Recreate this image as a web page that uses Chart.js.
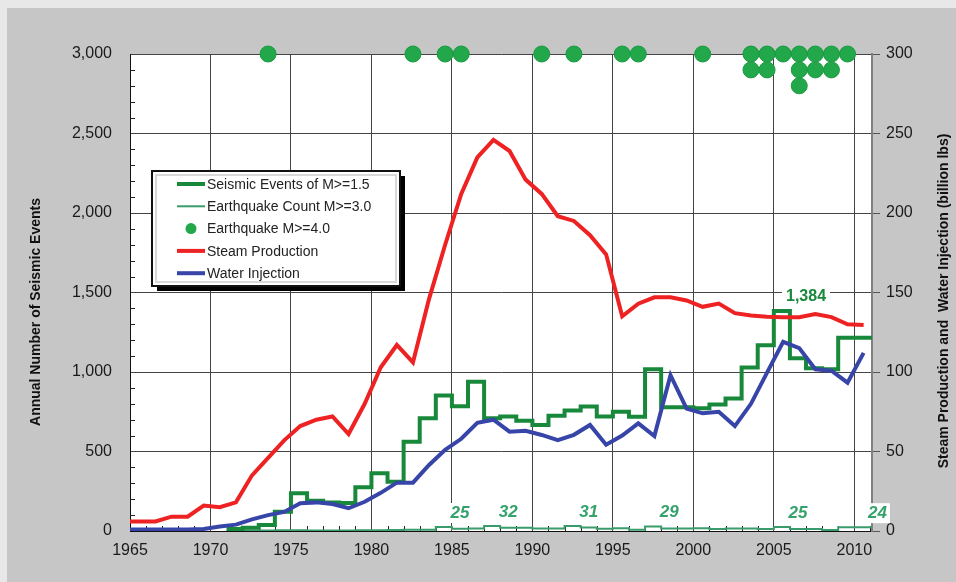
<!DOCTYPE html>
<html>
<head>
<meta charset="utf-8">
<script src="https://cdn.jsdelivr.net/npm/chart.js@4.4.1/dist/chart.umd.min.js"></script>
<style>
  html, body { margin: 0; padding: 0; background: #e8e8e8; }
  #wrap { position: relative; width: 956px; height: 582px; }
</style>
</head>
<body>
<div id="wrap"><canvas id="chart" width="956" height="582"></canvas></div>
<script>
// yearly series, steam / water in billion lbs (right axis)
const LINE_START = 1964;
const steamValues = [6, 6, 6, 9, 9, 16, 15, 18, 35, 46, 57, 66, 70, 72, 61, 80, 103, 117, 106, 146,
  180, 212, 235, 246, 239, 221, 212, 198, 195, 186, 174, 135, 143, 147, 147, 145, 141, 143, 137,
  135.5, 134.8, 134.5, 134.5, 136.5, 134.5, 130, 129.5];
const waterValues = [1, 1, 1, 1, 1, 1.3, 2.8, 4, 7.3, 10, 12, 17.4, 18, 17, 14.3, 18.4, 24, 30.4, 30.4,
  41.5, 51, 58, 68, 70, 62.5, 63, 60.4, 57.2, 60.5, 66.7, 54.3, 60, 67.7, 59.7, 98, 77, 74, 75, 66,
  80, 99.6, 119, 115, 101.7, 100.8, 93.3, 112];

// annual event counts (left axis), one bin per year
const COUNT_START = 1971;
const seismicValues = [12, 12, 21, 38, 121, 237, 191, 180, 176, 275, 363, 310, 562, 709, 852, 784,
  939, 709, 720, 694, 667, 725, 758, 783, 720, 750, 719, 1017, 778, 778, 772, 795, 834, 1029, 1168,
  1384, 1086, 1023, 1017, 1216];
const quakeM3Values = [2, 2, 3, 3, 4, 5, 3, 3, 3, 4, 5, 6, 8, 8, 25, 14, 16, 32, 20, 20, 15, 15, 31,
  22, 14, 18, 8, 29, 15, 15, 18, 12, 16, 16, 12, 25, 12, 12, 6, 24];
const quakeM3LabelYears = [1985, 1988, 1993, 1998, 2006, 2010];
const seismicPeakYear = 2006;

// M>=4.0 earthquakes: year and how many that year (stacked dots)
const quakeM4Years = [1973, 1982, 1984, 1985, 1990, 1992, 1995, 1996, 2000, 2003, 2004, 2005, 2006, 2007, 2008, 2009];
const quakeM4Counts = [1, 1, 1, 1, 1, 1, 1, 1, 1, 2, 2, 1, 3, 2, 2, 1];

const xTickYears = [1965, 1970, 1975, 1980, 1985, 1990, 1995, 2000, 2005, 2010];

const X_MIN = 1965, X_MAX = 2011.1;
const MID = 0.58; // yearly values plotted near mid-year
const FONT = '"Liberation Sans", Arial, sans-serif';
const GREEN = '#18893a', COUNT_GREEN = '#3a9c6c', LABEL_GREEN = '#35a26c';

const lineData = vals => vals.map((v, i) => ({ x: LINE_START + i + MID, y: v }));
const stepData = vals => {
  const pts = vals.map((v, i) => ({ x: COUNT_START + i, y: v }));
  pts.push({ x: X_MAX, y: vals[vals.length - 1] });
  return pts;
};
const dotData = [];
quakeM4Years.forEach((yr, i) => {
  for (let k = 0; k < quakeM4Counts[i]; k++) dotData.push({ x: yr + MID, y: 3000 - 100 * k });
});

const decor = {
  id: 'decor',
  beforeDraw(chart) {
    const { ctx, chartArea: a } = chart;
    ctx.save();
    ctx.fillStyle = '#e8e8e8';
    ctx.fillRect(0, 0, chart.width, chart.height);
    ctx.fillStyle = '#c6c6c6';
    ctx.fillRect(7, 8, chart.width - 7, chart.height - 8);
    ctx.fillStyle = '#fff';
    ctx.fillRect(a.left, a.top, a.right - a.left, a.bottom - a.top);
    ctx.restore();
  },
  beforeDatasetsDraw(chart) {
    const { ctx, chartArea: a, scales: { x, y } } = chart;
    ctx.save();
    ctx.strokeStyle = '#222';
    ctx.lineWidth = 1;
    ctx.beginPath();
    for (let v = 100; v < 3000; v += 100) {
      if (v % 500 === 0) continue;
      const py = Math.round(y.getPixelForValue(v)) + 0.5;
      ctx.moveTo(a.left, py); ctx.lineTo(a.left + 5, py);
    }
    for (let yr = 1966; yr <= 2011; yr++) {
      if (yr % 5 === 0) continue;
      const px = Math.round(x.getPixelForValue(yr)) + 0.5;
      ctx.moveTo(px, a.bottom); ctx.lineTo(px, a.bottom - 5);
    }
    ctx.stroke();
    ctx.restore();
  },
  afterDatasetsDraw(chart) {
    const { ctx, chartArea: a, scales: { x, y } } = chart;
    ctx.save();
    ctx.textAlign = 'center';
    ctx.textBaseline = 'middle';
    ctx.font = 'italic bold 17px ' + FONT;
    quakeM3LabelYears.forEach(yr => {
      const v = quakeM3Values[yr - COUNT_START];
      const txt = String(v);
      const w = ctx.measureText(txt).width;
      let px = x.getPixelForValue(yr + 0.5);
      if (px + w / 2 + 6 > a.right) px = a.right + w / 2 - 4;
      const py = y.getPixelForValue(v) - 14;
      ctx.fillStyle = '#fff';
      ctx.fillRect(px - w / 2 - 3, py - 10, w + 6, 20);
      ctx.fillStyle = LABEL_GREEN;
      ctx.fillText(txt, px, py);
    });

    const peak = seismicValues[seismicPeakYear - COUNT_START];
    const ptxt = peak.toLocaleString('en-US');
    ctx.font = 'bold 16px ' + FONT;
    const pw = ctx.measureText(ptxt).width;
    const ppx = x.getPixelForValue(seismicPeakYear + 1);
    const ppy = y.getPixelForValue(peak) - 14;
    ctx.fillStyle = '#fff';
    ctx.fillRect(ppx - pw / 2 - 4, ppy - 9, pw + 8, 18);
    ctx.fillStyle = GREEN;
    ctx.fillText(ptxt, ppx, ppy);
    ctx.restore();
  },
  afterDraw(chart) {
    const { ctx } = chart;
    ctx.save();
    // axis titles
    ctx.fillStyle = '#111';
    ctx.font = 'bold 14px ' + FONT;
    ctx.textAlign = 'center';
    ctx.textBaseline = 'middle';
    [[36, 312, 'Annual Number of Seismic Events'],
     [944, 301, 'Steam Production and  Water Injection (billion lbs)']].forEach(([tx, ty, t]) => {
      ctx.save();
      ctx.translate(tx, ty);
      ctx.rotate(-Math.PI / 2);
      ctx.fillText(t, 0, 0);
      ctx.restore();
    });

    // legend box
    const bx = 152, by = 171, bw = 248, bh = 115;
    ctx.fillStyle = '#000';
    ctx.fillRect(bx + 5, by + 5, bw, bh);
    ctx.fillStyle = '#fff';
    ctx.fillRect(bx, by, bw, bh);
    ctx.strokeStyle = '#d8d8d8';
    ctx.lineWidth = 2;
    ctx.strokeRect(bx + 4, by + 4, bw - 8, bh - 8);
    ctx.strokeStyle = '#111';
    ctx.lineWidth = 2;
    ctx.strokeRect(bx, by, bw, bh);

    ctx.font = '14px ' + FONT;
    ctx.textAlign = 'left';
    chart.data.datasets.forEach((ds, i) => {
      const ry = by + 13 + i * 22.3;
      if (ds.showLine === false) {
        ctx.fillStyle = ds.backgroundColor;
        ctx.beginPath();
        ctx.arc(191, ry, 5.5, 0, Math.PI * 2);
        ctx.fill();
      } else {
        ctx.strokeStyle = ds.borderColor;
        ctx.lineWidth = ds.borderWidth;
        ctx.beginPath();
        ctx.moveTo(177, ry); ctx.lineTo(205, ry);
        ctx.stroke();
      }
      ctx.fillStyle = '#222';
      ctx.fillText(ds.label, 207, ry + 1);
    });
    ctx.restore();
  }
};

new Chart(document.getElementById('chart'), {
  type: 'line',
  data: {
    datasets: [
      {
        label: 'Seismic Events of M>=1.5',
        data: stepData(seismicValues),
        yAxisID: 'y',
        stepped: 'after',
        borderColor: GREEN,
        borderWidth: 4,
        pointRadius: 0,
        order: 3
      },
      {
        label: 'Earthquake Count M>=3.0',
        data: stepData(quakeM3Values),
        yAxisID: 'y',
        stepped: 'after',
        borderColor: COUNT_GREEN,
        borderWidth: 2,
        pointRadius: 0,
        order: 4
      },
      {
        label: 'Earthquake M>=4.0',
        data: dotData,
        yAxisID: 'y',
        showLine: false,
        backgroundColor: '#22a84a',
        borderColor: '#1c9a42',
        borderWidth: 1,
        pointRadius: 8,
        clip: false,
        order: 0
      },
      {
        label: 'Steam Production',
        data: lineData(steamValues),
        yAxisID: 'y1',
        borderColor: '#ee2222',
        borderWidth: 4,
        pointRadius: 0,
        order: 2
      },
      {
        label: 'Water Injection',
        data: lineData(waterValues),
        yAxisID: 'y1',
        borderColor: '#3745a8',
        borderWidth: 4,
        pointRadius: 0,
        order: 1
      }
    ]
  },
  options: {
    responsive: false,
    animation: false,
    events: [],
    layout: { padding: { top: 54, left: 0, right: 0, bottom: 0 } },
    plugins: { legend: { display: false }, tooltip: { enabled: false } },
    scales: {
      x: {
        type: 'linear',
        min: X_MIN,
        max: X_MAX,
        grid: { color: '#444', drawTicks: false },
        border: { color: '#111', width: 1 },
        ticks: {
          padding: 10,
          autoSkip: false,
          color: '#1a1a1a',
          font: { family: FONT, size: 16 },
          callback: v => String(v)
        },
        afterBuildTicks: s => { s.ticks = xTickYears.map(v => ({ value: v })); },
        afterFit: s => { s.height = 51; }
      },
      y: {
        position: 'left',
        min: 0,
        max: 3000,
        grid: { color: '#444', drawTicks: false },
        border: { color: '#111', width: 1 },
        ticks: {
          stepSize: 500,
          padding: 18,
          color: '#1a1a1a',
          font: { family: FONT, size: 16 },
          callback: v => v.toLocaleString('en-US')
        },
        afterFit: s => { s.width = 130; }
      },
      y1: {
        position: 'right',
        min: 0,
        max: 300,
        grid: { drawOnChartArea: false, color: '#555', tickLength: 8 },
        border: { color: '#808080', width: 2 },
        ticks: {
          stepSize: 50,
          padding: 6,
          color: '#1a1a1a',
          font: { family: FONT, size: 16 }
        },
        afterFit: s => { s.width = 84; }
      }
    }
  },
  plugins: [decor]
});
</script>
</body>
</html>
